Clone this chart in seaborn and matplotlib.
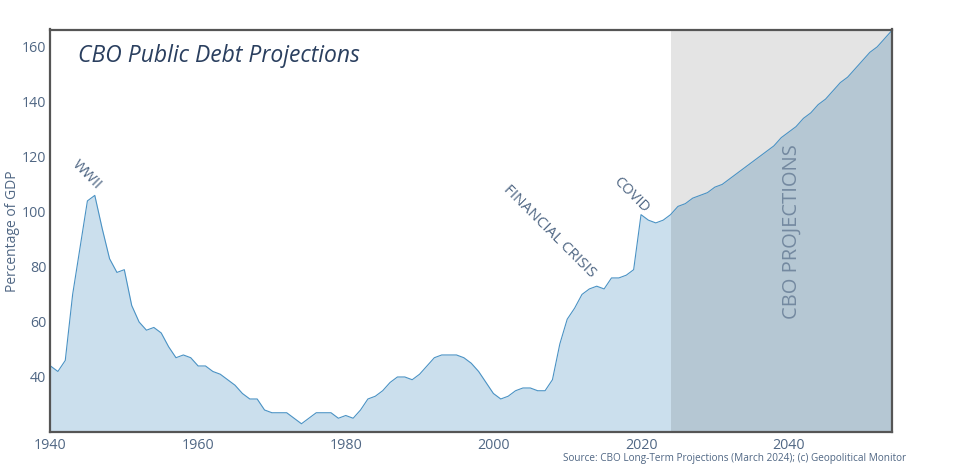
# CBO public debt projections chart
import pandas as pd
import seaborn as sns
import matplotlib.pyplot as plt

# Data
years = list(range(1940, 2055))
debt_history = [44, 42, 46, 70, 87, 104, 106, 94, 83, 78,
                79, 66, 60, 57, 58, 56, 51, 47, 48, 47,
                44, 44, 42, 41, 39, 37, 34, 32, 32, 28,
                27, 27, 27, 25, 23, 25, 27, 27, 27, 25,
                26, 25, 28, 32, 33, 35, 38, 40, 40, 39,
                41, 44, 47, 48, 48, 48, 47, 45, 42, 38,
                34, 32, 33, 35, 36, 36, 35, 35, 39, 52,
                61, 65, 70, 72, 73, 72, 76, 76, 77, 79,
                99, 97, 96, 97]
debt_projection = [99, 102, 103, 105, 106, 107,
                   109, 110, 112, 114, 116, 118, 120, 122, 124, 127,
                   129, 131, 134, 136, 139, 141, 144, 147, 149, 152,
                   155, 158, 160, 163, 166]
debt = debt_history + debt_projection
x_ticks = [1940, 1960, 1980, 2000, 2020, 2040]
y_ticks = [40, 60, 80, 100, 120, 140, 160]

df = pd.DataFrame({'year': years, 'debt': debt})

sns.set_theme(style='white')
plt.rcParams['font.family'] = ['Open Sans', 'DejaVu Sans']

tick_color = '#506784'
title_color = '#2a3f5f'
edge_color = '#555555'

fig, ax = plt.subplots(figsize=(9.7, 4.66), dpi=100)
fig.subplots_adjust(left=50.5 / 970, right=892 / 970, top=1 - 29.5 / 466, bottom=1 - 432 / 466)

ax.fill_between(df['year'], df['debt'], 0, color='#1f77b4', alpha=0.23, linewidth=0)
sns.lineplot(data=df, x='year', y='debt', ax=ax, color='#4a92c4', linewidth=0.8)
ax.axvspan(2024, 2054, color='black', alpha=0.105, linewidth=0)

ax.set_xlim(1940, 2054)
ax.set_ylim(20, 166.3)
ax.set_xticks(x_ticks)
ax.set_yticks(y_ticks)
ax.tick_params(axis='x', labelsize=10.3, colors=tick_color, length=0, pad=4)
ax.tick_params(axis='y', labelsize=10.3, colors=tick_color, length=0, pad=3)
ax.set_xlabel('')
ax.set_ylabel('Percentage of GDP', fontsize=10, color=tick_color)
ax.yaxis.set_label_coords(-30.5 / 841.5, 0.5)

for side in ['top', 'bottom', 'left', 'right']:
    ax.spines[side].set_color(edge_color)
    ax.spines[side].set_linewidth(1.6)

# Title and annotations
ax.text(1943.7, 156.5, 'CBO Public Debt Projections', fontsize=16.5, style='italic',
        color=title_color, ha='left', va='center')
ax.text(1944.9, 113.5, 'WWII', fontsize=10.5, rotation=-45, color=tick_color,
        ha='center', va='center', rotation_mode='anchor')
ax.text(2007.55, 93, 'FINANCIAL CRISIS', fontsize=11, rotation=-45, color=tick_color,
        ha='center', va='center', rotation_mode='anchor')
ax.text(2018.6, 106, 'COVID', fontsize=10.5, rotation=-45, color=tick_color,
        ha='center', va='center', rotation_mode='anchor')
ax.text(2040.4, 93, 'CBO PROJECTIONS', fontsize=14.5, rotation=90, color='#506784', alpha=0.65,
        ha='center', va='center')
fig.text(906 / 970, 1 - 459 / 466, 'Source: CBO Long-Term Projections (March 2024); (c) Geopolitical Monitor',
         fontsize=7.2, color=tick_color, ha='right', va='center')

fig.savefig('out.png', dpi=100)
